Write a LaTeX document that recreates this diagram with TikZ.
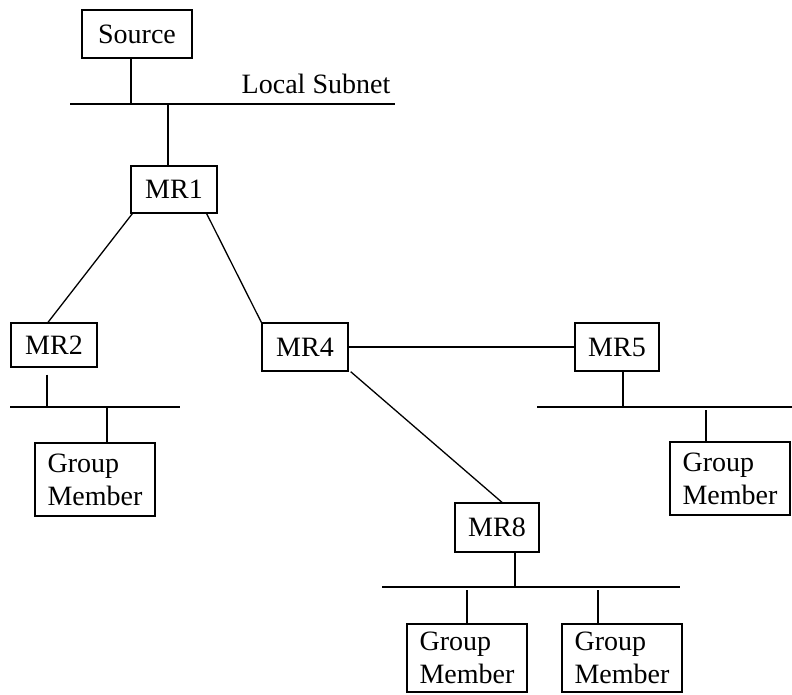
\documentclass[tikz,border=0pt]{standalone}
\usepackage{fontspec}
\setmainfont{Liberation Serif}
\begin{document}
\begin{tikzpicture}[x=1pt,y=-1pt,
  every node/.style={font=\fontsize{28}{33}\selectfont},
  router/.style={draw,line width=1.3pt,rectangle,inner sep=0pt},
  member/.style={draw,line width=1.3pt,rectangle,inner sep=0pt,align=left,
                 minimum width=120pt},
  link/.style={line width=1.3pt},
  bus/.style={line width=1.6pt}]
\useasboundingbox (0,0) rectangle (792,695);

% hosts and routers
\node[router,minimum width=110pt,minimum height=48pt] (src) at (137,34) {Source};
\node[router,minimum width=86pt,minimum height=47pt] (mr1) at (174,189.5) {MR1};
\node[router,minimum width=86pt,minimum height=44pt] (mr2) at (54,345) {MR2};
\node[router,minimum width=86pt,minimum height=48pt] (mr4) at (305,347) {MR4};
\node[router,minimum width=84pt,minimum height=48pt] (mr5) at (617,347) {MR5};
\node[router,minimum width=84pt,minimum height=49pt] (mr8) at (497,527.5) {MR8};
\node[member,minimum height=73pt] (gm1) at (95,479.5) {Group\\Member};
\node[member,minimum height=73pt] (gm2) at (730,478.5) {Group\\Member};
\node[member,minimum height=68pt] (gm3) at (467,658) {Group\\Member};
\node[member,minimum height=68pt] (gm4) at (622,658) {Group\\Member};

% local subnet of the source
\coordinate (la) at (70,104);
\coordinate (lb) at (395,104);
\node (lsub) at (316,84) {Local Subnet};
\draw[bus] (la) -- (lb);
\coordinate (ls1) at (131,104);
\coordinate (ls2) at (168,104);
\draw[link] (ls1 |- src.south) -- (ls1);
\draw[link] (ls2) -- (ls2 |- mr1.north);

% router links
\draw[link] ([xshift=2pt]mr1.south west) -- ([xshift=-6pt]mr2.north);
\draw[link] ([xshift=-11pt]mr1.south east) -- (mr4.north west);
\draw[link] (mr4.east) -- (mr5.west);
\draw[link] ([xshift=2pt]mr4.south east) -- ([xshift=5pt]mr8.north);

% subnet below MR2
\coordinate (ba) at (10,407);
\coordinate (bb) at (180,407);
\draw[bus] (ba) -- (bb);
\coordinate (bs1) at (47,407);
\coordinate (bs2) at (107,407);
\draw[link] ([yshift=-7pt]bs1 |- mr2.south) -- (bs1);
\draw[link] (bs2) -- (bs2 |- gm1.north);

% subnet below MR5
\coordinate (ca) at (537,407);
\coordinate (cb) at (792,407);
\draw[bus] (ca) -- (cb);
\coordinate (cs1) at (623,407);
\coordinate (cs2) at (706,407);
\draw[link] (cs1 |- mr5.south) -- (cs1);
\draw[link] ([yshift=-3pt]cs2) -- (cs2 |- gm2.north);

% subnet below MR8
\coordinate (da) at (382,587);
\coordinate (db) at (680,587);
\draw[bus] (da) -- (db);
\coordinate (ds1) at (515,587);
\coordinate (ds2) at (467,587);
\coordinate (ds3) at (598,587);
\draw[link] (ds1 |- mr8.south) -- (ds1);
\draw[link] ([yshift=-3pt]ds2) -- (ds2 |- gm3.north);
\draw[link] ([yshift=-3pt]ds3) -- (ds3 |- gm4.north);
\end{tikzpicture}
\end{document}
